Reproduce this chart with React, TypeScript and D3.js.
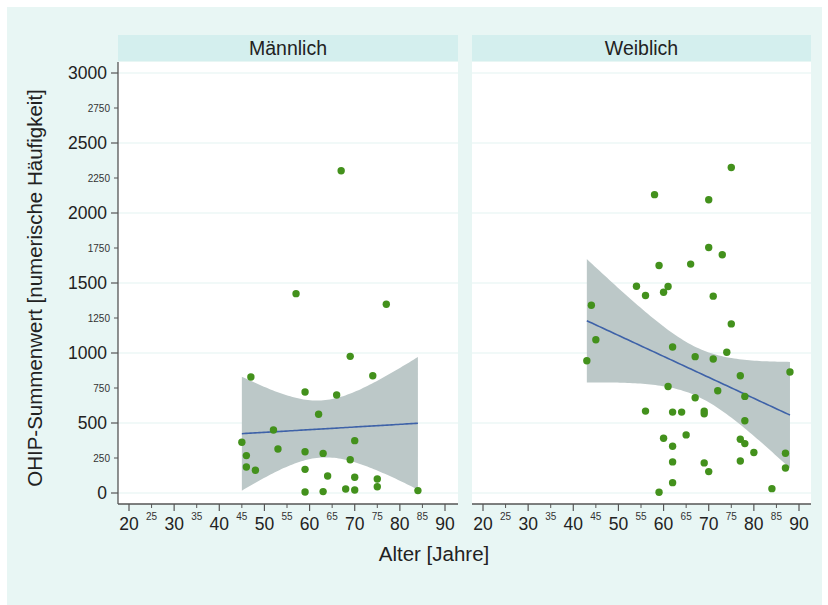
import React, { useEffect } from "react";
import * as d3 from "d3";

const WIDTH = 828;
const HEIGHT = 605;

// Männlich: Alter und OHIP-Summenwert
const maleAges = [45, 47, 46, 46, 48, 52, 53, 57, 59, 59, 59, 59, 62, 63, 63, 64, 66, 67, 68, 69, 69, 70, 70, 70, 74, 75, 75, 77, 84];
const maleScores = [362, 829, 267, 186, 162, 450, 314, 1424, 721, 295, 169, 7, 562, 283, 10, 121, 700, 2302, 29, 976, 238, 374, 112, 21, 838, 100, 45, 1348, 17];

// Weiblich: Alter und OHIP-Summenwert
const femaleAges = [
  43, 44, 45, 54, 56, 56, 58, 59, 59, 60, 60, 61, 61, 62, 62, 62, 62, 62, 64, 65, 66, 67, 67, 69, 69, 69,
  70, 70, 70, 71, 71, 72, 73, 74, 75, 75, 77, 77, 77, 78, 78, 78, 80, 84, 87, 87, 88,
];
const femaleScores = [
  945, 1341, 1095, 1477, 1411, 585, 2131, 1625, 5, 1434, 391, 1475, 761, 1043, 334, 222, 74, 578, 578, 415, 1635, 974, 680, 585, 566, 215,
  2095, 1754, 153, 1406, 957, 730, 1702, 1005, 2325, 1208, 838, 384, 229, 690, 516, 353, 289, 31, 284, 179, 864,
];

const panelLabels = ["Männlich", "Weiblich"];
const yMajorTicks = [0, 500, 1000, 1500, 2000, 2500, 3000];
const yMinorTicks = [250, 750, 1250, 1750, 2250, 2750];
const xMajorTicks = [20, 30, 40, 50, 60, 70, 80, 90];
const xMinorTicks = [25, 35, 45, 55, 65, 75, 85];

const yTitle = "OHIP-Summenwert [numerische Häufigkeit]";
const xTitle = "Alter [Jahre]";

const FONT = "'Liberation Sans', Arial, Helvetica, sans-serif";
const BG = "#e8f6f4";
const STRIP = "#d4efee";
const GRID = "#e4f3f1";
const AXIS = "#555";
const DOT = "#43911c";
const BAND = "#bcc8c8";
const LINE = "#3e62a8";

const PLOT_TOP = 62;
const AXIS_Y = 504;
const PANELS_X = [
  { x0: 118, x1: 458 },
  { x0: 472, x1: 811 },
];

// two-sided 95% t quantile (Cornish-Fisher approximation)
const tQuantile = (df: number) => {
  const z = 1.959964;
  return z + (z ** 3 + z) / (4 * df) + (5 * z ** 5 + 16 * z ** 3 + 3 * z) / (96 * df * df);
};

// linear fit with 95% confidence band of the mean
const fitBand = (xs: number[], ys: number[], steps = 80) => {
  const n = xs.length;
  const mx = d3.mean(xs)!;
  const my = d3.mean(ys)!;
  const sxx = d3.sum(xs, (x) => (x - mx) ** 2);
  const sxy = d3.sum(xs, (x, i) => (x - mx) * (ys[i] - my));
  const b = sxy / sxx;
  const a = my - b * mx;
  const sse = d3.sum(xs, (x, i) => (ys[i] - a - b * x) ** 2);
  const s = Math.sqrt(sse / (n - 2));
  const t = tQuantile(n - 2);
  const [lo, hi] = d3.extent(xs) as [number, number];
  return d3.range(steps + 1).map((i) => {
    const x = lo + ((hi - lo) * i) / steps;
    const yhat = a + b * x;
    const se = s * Math.sqrt(1 / n + (x - mx) ** 2 / sxx);
    return { x, yhat, lo: yhat - t * se, hi: yhat + t * se };
  });
};

const yScale = d3.scaleLinear().domain([0, 3000]).range([493, 73]);

const Panel = ({ index, ages, scores }: { index: number; ages: number[]; scores: number[] }) => {
  const { x0, x1 } = PANELS_X[index];
  const xScale = d3.scaleLinear().domain([20, 90]).range([x0 + 11, x0 + 327]);
  const fit = fitBand(ages, scores);

  const area = d3
    .area<{ x: number; lo: number; hi: number }>()
    .x((d) => xScale(d.x))
    .y0((d) => yScale(d.lo))
    .y1((d) => yScale(d.hi));
  const line = d3
    .line<{ x: number; yhat: number }>()
    .x((d) => xScale(d.x))
    .y((d) => yScale(d.yhat));

  return (
    <g>
      {/* strip */}
      <rect x={x0} y={35} width={x1 - x0} height={26} fill={STRIP} />
      <text x={(x0 + x1) / 2} y={55} textAnchor="middle" fontSize={19.5} fill="#222">
        {panelLabels[index]}
      </text>
      {/* plot area */}
      <rect x={x0} y={PLOT_TOP} width={x1 - x0} height={AXIS_Y - PLOT_TOP} fill="#fff" />
      {yMajorTicks.map((v) => (
        <line key={v} x1={x0} x2={x1} y1={yScale(v)} y2={yScale(v)} stroke={GRID} strokeWidth={1.2} />
      ))}
      <path d={area(fit) || ""} fill={BAND} />
      <path d={line(fit) || ""} fill="none" stroke={LINE} strokeWidth={1.6} />
      {ages.map((a, i) => (
        <circle key={i} cx={xScale(a)} cy={yScale(scores[i])} r={3.7} fill={DOT} />
      ))}
      {/* x axis */}
      <line x1={x0} x2={x1} y1={AXIS_Y} y2={AXIS_Y} stroke={AXIS} strokeWidth={1.3} />
      {xMajorTicks.map((v) => (
        <g key={v}>
          <line x1={xScale(v)} x2={xScale(v)} y1={AXIS_Y} y2={AXIS_Y + 7} stroke={AXIS} strokeWidth={1.2} />
          <text x={xScale(v)} y={530} textAnchor="middle" fontSize={17.5} fill="#222">
            {v}
          </text>
        </g>
      ))}
      {xMinorTicks.map((v) => (
        <g key={v}>
          <line x1={xScale(v)} x2={xScale(v)} y1={AXIS_Y} y2={AXIS_Y + 4} stroke={AXIS} strokeWidth={1} />
          <text x={xScale(v)} y={520} textAnchor="middle" fontSize={10} fill="#333">
            {v}
          </text>
        </g>
      ))}
      {/* y axis only on the first panel */}
      {index === 0 && (
        <g>
          <line x1={x0} x2={x0} y1={PLOT_TOP} y2={AXIS_Y} stroke={AXIS} strokeWidth={1.3} />
          {yMajorTicks.map((v) => (
            <g key={v}>
              <line x1={x0 - 7} x2={x0} y1={yScale(v)} y2={yScale(v)} stroke={AXIS} strokeWidth={1.2} />
              <text x={x0 - 11} y={yScale(v)} dy="0.35em" textAnchor="end" fontSize={17.5} fill="#222">
                {v}
              </text>
            </g>
          ))}
          {yMinorTicks.map((v) => (
            <g key={v}>
              <line x1={x0 - 4} x2={x0} y1={yScale(v)} y2={yScale(v)} stroke={AXIS} strokeWidth={1} />
              <text x={x0 - 8} y={yScale(v)} dy="0.35em" textAnchor="end" fontSize={10} fill="#333">
                {v}
              </text>
            </g>
          ))}
        </g>
      )}
    </g>
  );
};

export default function App() {
  useEffect(() => {
    document.body.style.margin = "0";
  }, []);

  return (
    <svg width={WIDTH} height={HEIGHT} style={{ display: "block", fontFamily: FONT }}>
      <rect width={WIDTH} height={HEIGHT} fill="#fff" />
      <rect x={7} y={7} width={815} height={598} fill={BG} />
      <Panel index={0} ages={maleAges} scores={maleScores} />
      <Panel index={1} ages={femaleAges} scores={femaleScores} />
      <text
        transform={`translate(42,${(PLOT_TOP + AXIS_Y) / 2 + 5}) rotate(-90)`}
        textAnchor="middle"
        fontSize={20.5}
        fill="#222"
      >
        {yTitle}
      </text>
      <text x={434} y={561} textAnchor="middle" fontSize={20.5} fill="#222">
        {xTitle}
      </text>
    </svg>
  );
}
